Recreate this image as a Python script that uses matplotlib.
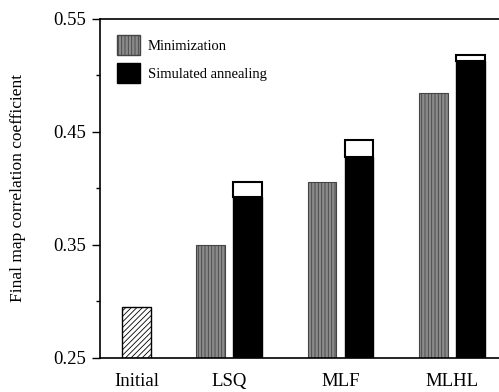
import matplotlib.pyplot as plt
from matplotlib.ticker import MultipleLocator
from matplotlib.patches import Patch

plt.rcParams['font.family'] = ['Liberation Serif', 'DejaVu Serif']
plt.rcParams['hatch.linewidth'] = 0.6

categories = ['Initial', 'LSQ', 'MLF', 'MLHL']
initial_value = 0.295
minimization = [0.350, 0.406, 0.4845]
annealing_low = [0.392, 0.428, 0.513]
annealing_high = [0.406, 0.443, 0.518]

fig = plt.figure(figsize=(4.99, 3.92), dpi=100)
ax = fig.add_axes([0.200, 0.087, 0.800, 0.865])

base = 0.25
width = 0.78

# bar slots: Initial at 0, then pairs (2,3), (5,6), (8,9)
ax.bar(0, initial_value - base, width, bottom=base, facecolor='white',
       edgecolor='black', hatch='//////', linewidth=1.0)

for i, (m, lo, hi) in enumerate(zip(minimization, annealing_low, annealing_high)):
    x_min = 2 + 3 * i
    x_sa = x_min + 1
    ax.bar(x_min, m - base, width, bottom=base, facecolor='#8a8a8a',
           edgecolor='#444444', hatch='|||||', linewidth=0.8)
    ax.bar(x_sa, lo - base, width, bottom=base, facecolor='black',
           edgecolor='black', linewidth=1.0)
    ax.bar(x_sa, hi - lo, width, bottom=lo, facecolor='white',
           edgecolor='black', linewidth=1.5)

ax.set_ylim(0.25, 0.55)
ax.set_xlim(-1.0, 9.78)
ax.yaxis.set_minor_locator(MultipleLocator(0.05))
ax.set_yticks([0.25, 0.35, 0.45, 0.55])
ax.set_yticklabels(['0.25', '0.35', '0.45', '0.55'], fontsize=13.5)
ax.tick_params(axis='y', which='major', direction='out', length=6, width=1)
ax.tick_params(axis='y', which='minor', direction='out', length=3, width=1)

ax.set_xticks([0, 2.5, 5.5, 8.5])
ax.set_xticklabels(categories, fontsize=13.5)
ax.tick_params(axis='x', length=0, pad=11)

ax.spines['right'].set_visible(False)
for s in ['left', 'top', 'bottom']:
    ax.spines[s].set_linewidth(1.2)

ax.set_ylabel('Final map correlation coefficient', fontsize=12.5, labelpad=20)

handles = [
    Patch(facecolor='#8a8a8a', edgecolor='#444444', hatch='|||||', label='Minimization'),
    Patch(facecolor='black', edgecolor='black', label='Simulated annealing'),
]
ax.legend(handles=handles, loc='upper left', frameon=False, fontsize=10.5,
          handlelength=1.55, handleheight=1.7, borderaxespad=0.5,
          labelspacing=0.55, handletextpad=0.55, bbox_to_anchor=(0.01, 0.99))

fig.savefig('out.png', dpi=100)
